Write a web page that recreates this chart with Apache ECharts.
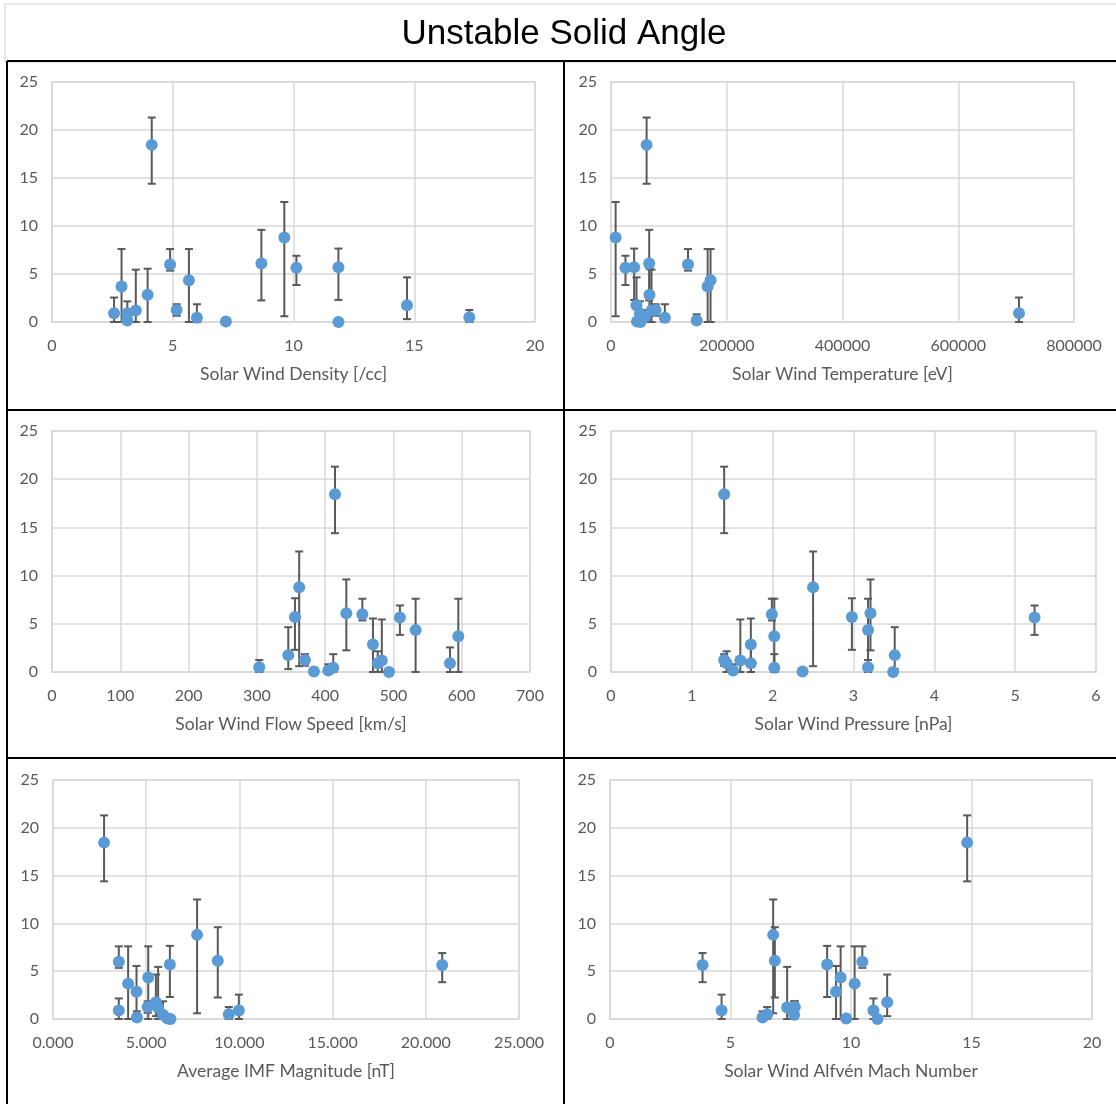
<!DOCTYPE html>
<html>
<head>
<meta charset="utf-8">
<title>Unstable Solid Angle</title>
<script src="https://cdn.jsdelivr.net/npm/echarts@6/dist/echarts.min.js"></script>
<style>
  html, body { margin: 0; padding: 0; background: #ffffff; }
  #chart { width: 1116px; height: 1104px; }
</style>
</head>
<body>
<div id="chart"></div>
<script>
// Unstable solid angle per event, with lower / upper error bounds
const solidAngle = [18.45, 3.7, 0.9, 0.9, 0.15, 1.2, 2.85, 6.0, 1.25, 4.35, 0.45, 0.05, 6.1, 8.8, 5.65, 5.7, 0.0, 1.75, 0.5];
const errLow     = [14.4,  0.0, 0.0, 0.0, 0.0,  0.0, 0.0,  5.35, 0.65, 0.0, 0.0, 0.05, 2.25, 0.6, 3.85, 2.3, 0.0, 0.3,  0.0];
const errHigh    = [21.3,  7.6, 2.55, 2.15, 0.8, 5.45, 5.55, 7.6, 1.85, 7.6, 1.85, 0.05, 9.6, 12.5, 6.9, 7.65, 0.0, 4.65, 1.25];

// Solar wind parameters for the same events
const density     = [4.13, 2.88, 2.57, 3.12, 3.12, 3.47, 3.96, 4.89, 5.16, 5.67, 6.0, 7.2, 8.67, 9.62, 10.12, 11.86, 11.86, 14.7, 17.28];
const temperature = [61500, 167000, 705000, 50000, 148000, 70000, 66500, 133000, 77000, 172000, 93000, 45000, 66000, 8000, 25000, 40000, 51000, 44000, 58000];
const flowSpeed   = [414.4, 595, 582.8, 477, 404.6, 483, 470, 454.5, 370.4, 532.5, 411.9, 383.6, 431, 362, 509.5, 355.8, 493.5, 346, 303.5];
const pressure    = [1.40, 2.02, 1.73, 1.43, 1.51, 1.60, 1.73, 1.99, 1.40, 3.18, 2.02, 2.37, 3.21, 2.50, 5.24, 2.98, 3.49, 3.51, 3.18];
const imfMag      = [2.74, 4.03, 9.97, 3.53, 4.5, 5.64, 4.48, 3.53, 5.08, 5.11, 5.9, 6.14, 8.84, 7.73, 20.88, 6.27, 6.3, 5.52, 9.43];
const alfvenMach  = [14.82, 10.15, 4.63, 10.93, 6.33, 7.35, 9.38, 10.47, 7.67, 9.57, 7.64, 9.8, 6.84, 6.77, 3.84, 9.01, 11.1, 11.5, 6.52];

const chartTitle = 'Unstable Solid Angle';
const yTicks = { min: 0, max: 25, interval: 5 };

const panels = [
  { name: 'Solar Wind Density [/cc]',     x: density,     min: 0, max: 20,     interval: 5,      fmt: v => String(v) },
  { name: 'Solar Wind Temperature [eV]',  x: temperature, min: 0, max: 800000, interval: 200000, fmt: v => String(v) },
  { name: 'Solar Wind Flow Speed [km/s]', x: flowSpeed,   min: 0, max: 700,    interval: 100,    fmt: v => String(v) },
  { name: 'Solar Wind Pressure [nPa]',    x: pressure,    min: 0, max: 6,      interval: 1,      fmt: v => String(v) },
  { name: 'Average IMF Magnitude [nT]',   x: imfMag,      min: 0, max: 25,     interval: 5,      fmt: v => v.toFixed(3).replace(/\B(?=(\d{3})+\.)/g, ',') },
  { name: 'Solar Wind Alfvén Mach Number', x: alfvenMach, min: 0, max: 20,     interval: 5,      fmt: v => String(v) }
];

// Plot rectangles of the six panels (left, top, width, height)
const gridBoxes = [
  { left: 52,  top: 82,  width: 483, height: 240 },
  { left: 611, top: 82,  width: 463, height: 240 },
  { left: 52,  top: 431, width: 478, height: 241 },
  { left: 611, top: 431, width: 485, height: 241 },
  { left: 53,  top: 780, width: 466, height: 239 },
  { left: 610, top: 780, width: 482, height: 239 }
];

const gridColor = '#d9d9d9';
const textColor = '#595959';
const pointColor = '#5b9bd5';
const barColor = '#595959';
const uiFont = 'Lato, "Open Sans", sans-serif';

function errorBar(params, api) {
  const x = api.value(0), lo = api.value(1), hi = api.value(2);
  if (hi <= lo) return null;
  const top = api.coord([x, hi]);
  const bot = api.coord([x, lo]);
  const cap = 4;
  const style = { stroke: barColor, lineWidth: 2 };
  return {
    type: 'group',
    children: [
      { type: 'line', shape: { x1: top[0], y1: top[1], x2: bot[0], y2: bot[1] }, style },
      { type: 'line', shape: { x1: top[0] - cap, y1: top[1], x2: top[0] + cap, y2: top[1] }, style },
      { type: 'line', shape: { x1: bot[0] - cap, y1: bot[1], x2: bot[0] + cap, y2: bot[1] }, style }
    ]
  };
}

const grid = [], xAxis = [], yAxis = [], series = [];
panels.forEach((p, i) => {
  grid.push(Object.assign({ show: true, borderColor: gridColor, borderWidth: 1.5, containLabel: false }, gridBoxes[i]));
  xAxis.push({
    type: 'value', gridIndex: i, min: p.min, max: p.max, interval: p.interval,
    name: p.name, nameLocation: 'middle', nameGap: 43,
    nameTextStyle: { color: textColor, fontSize: 17.5, fontFamily: uiFont },
    axisLine: { show: true, lineStyle: { color: gridColor, width: 1.5 } },
    axisTick: { show: false },
    axisLabel: { color: textColor, fontSize: 16, fontFamily: uiFont, margin: 16, formatter: p.fmt },
    splitLine: { show: true, lineStyle: { color: gridColor, width: 1.5 } }
  });
  yAxis.push({
    type: 'value', gridIndex: i, min: yTicks.min, max: yTicks.max, interval: yTicks.interval,
    axisLine: { show: true, lineStyle: { color: gridColor, width: 1.5 } },
    axisTick: { show: false },
    axisLabel: { color: textColor, fontSize: 16, fontFamily: uiFont, margin: 14 },
    splitLine: { show: true, lineStyle: { color: gridColor, width: 1.5 } }
  });
  series.push({
    type: 'custom', xAxisIndex: i, yAxisIndex: i, z: 2, clip: false,
    renderItem: errorBar,
    encode: { x: 0, y: [1, 2] },
    data: p.x.map((v, k) => [v, errLow[k], errHigh[k]])
  });
  series.push({
    type: 'scatter', xAxisIndex: i, yAxisIndex: i, z: 3, clip: false,
    symbol: 'circle', symbolSize: 12,
    itemStyle: { color: pointColor, opacity: 1 },
    data: p.x.map((v, k) => [v, solidAngle[k]])
  });
});

// Table-style frame around the title row and the six panel cells
const frame = [
  { type: 'rect', shape: { x: 5, y: 4, width: 1120, height: 58 }, style: { fill: 'none', stroke: '#d0d0d0', lineWidth: 1 } },
  { type: 'line', shape: { x1: 7, y1: 61, x2: 1116, y2: 61 }, style: { stroke: '#000', lineWidth: 2 } },
  { type: 'line', shape: { x1: 7, y1: 410, x2: 1116, y2: 410 }, style: { stroke: '#000', lineWidth: 2 } },
  { type: 'line', shape: { x1: 7, y1: 758, x2: 1116, y2: 758 }, style: { stroke: '#000', lineWidth: 2 } },
  { type: 'line', shape: { x1: 7, y1: 61, x2: 7, y2: 1104 }, style: { stroke: '#000', lineWidth: 2 } },
  { type: 'line', shape: { x1: 564, y1: 61, x2: 564, y2: 1104 }, style: { stroke: '#000', lineWidth: 2 } },
  { type: 'text', x: 564, y: 34, style: { text: chartTitle, fill: '#000', font: '35px "Liberation Sans", Arial, sans-serif', textAlign: 'center', textVerticalAlign: 'middle' } }
];

const chart = echarts.init(document.getElementById('chart'), null, { renderer: 'canvas' });
chart.setOption({
  backgroundColor: '#ffffff',
  animation: false,
  graphic: frame,
  grid, xAxis, yAxis, series
});
</script>
</body>
</html>
